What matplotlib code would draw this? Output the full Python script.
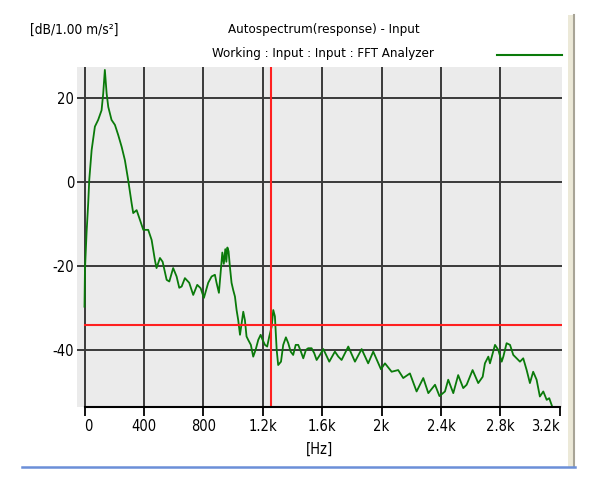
import matplotlib
matplotlib.use('Agg')
import matplotlib.pyplot as plt
from matplotlib.lines import Line2D
from matplotlib.patches import Rectangle

# autospectrum (Hz, dB)
freq_hz = [0, 3, 14, 25, 32, 48, 70, 92, 115, 126, 137, 149, 160, 182, 205, 227, 250, 272,
           294, 317, 328, 351, 373, 396, 429, 452, 474, 485, 508, 526, 553, 571, 597, 620,
           638, 654, 676, 705, 732, 759, 782, 804, 833, 856, 878, 889, 905, 918, 928, 938,
           948, 955, 962, 970, 979, 990, 1001, 1013, 1024, 1035, 1047, 1058, 1069, 1080,
           1091, 1102, 1120, 1136, 1152, 1170, 1186, 1199, 1215, 1230, 1244, 1260, 1271,
           1282, 1294, 1304, 1323, 1338, 1356, 1372, 1388, 1405, 1422, 1439, 1457, 1473,
           1491, 1506, 1529, 1547, 1563, 1585, 1608, 1648, 1686, 1709, 1731, 1776, 1821,
           1866, 1910, 1944, 1996, 2023, 2068, 2112, 2146, 2191, 2236, 2281, 2315, 2360,
           2390, 2427, 2449, 2483, 2516, 2550, 2573, 2613, 2651, 2681, 2696, 2719, 2730,
           2764, 2786, 2809, 2820, 2842, 2865, 2887, 2910, 2932, 2954, 2977, 2999, 3021,
           3044, 3066, 3089, 3112, 3129, 3150]
level_db = [-29.7, -21.0, -12.0, -5.0, 0.5, 7.6, 13.2, 14.8, 17.1, 21.1, 26.7, 21.1, 17.9,
            14.8, 13.6, 11.2, 8.4, 5.2, 0.5, -5.0, -7.4, -6.7, -9.0, -11.4, -11.4, -13.8,
            -18.6, -20.5, -18.1, -19.0, -23.3, -23.7, -20.5, -22.5, -25.2, -24.9, -22.9,
            -24.0, -26.9, -24.5, -25.3, -27.6, -24.0, -22.5, -22.1, -24.0, -26.4, -21.0,
            -16.8, -19.5, -16.0, -19.0, -15.6, -16.5, -20.2, -24.0, -25.7, -27.3, -30.5,
            -32.9, -36.4, -33.6, -30.9, -32.9, -36.8, -37.6, -38.8, -41.6, -40.0, -37.6,
            -36.4, -37.6, -38.8, -39.2, -36.8, -34.5, -30.5, -32.0, -40.0, -43.6, -42.8,
            -38.8, -37.0, -38.4, -40.4, -41.2, -38.8, -38.8, -40.4, -42.0, -40.0, -39.6,
            -39.6, -40.8, -42.4, -41.2, -39.8, -42.8, -40.4, -41.6, -42.4, -39.2, -42.8,
            -39.8, -43.2, -40.4, -44.6, -43.2, -45.2, -44.8, -46.7, -45.6, -49.9, -46.7,
            -50.3, -48.3, -51.0, -49.9, -47.1, -50.3, -46.0, -49.1, -48.3, -44.8, -47.9,
            -46.4, -43.2, -41.6, -43.2, -38.8, -40.0, -42.8, -41.6, -38.4, -38.8, -41.2,
            -42.0, -42.8, -42.0, -44.8, -47.9, -45.2, -47.1, -51.1, -49.9, -51.9, -51.5,
            -53.6]

x_ticks = [0, 400, 800, 1200, 1600, 2000, 2400, 2800, 3200]
x_labels = ['0', '400', '800', '1.2k', '1.6k', '2k', '2.4k', '2.8k', '3.2k']
y_ticks = [20, 0, -20, -40]

cursor_hz = 1258
cursor_db = -34.0

plt.rcParams['font.family'] = ['DejaVu Sans']
plt.rcParams['font.stretch'] = 'condensed'

fig = plt.figure(figsize=(5.9, 4.78), dpi=100)
ax = fig.add_axes([77 / 590, 1 - 407 / 478, 485 / 590, 340 / 478])
ax.set_facecolor('#ebebeb')

for xv in x_ticks[:-1]:
    ax.axvline(xv, color='#3a3a3a', lw=1.4, zorder=1)
for yv in y_ticks:
    ax.axhline(yv, color='#3a3a3a', lw=1.4, zorder=1)

ax.plot(freq_hz, level_db, color='#0a7a0a', lw=1.3, zorder=3)

ax.axvline(cursor_hz, color='#ff2020', lw=1.5, zorder=4)
ax.plot([0, 3300], [cursor_db, cursor_db], color='#ff2020', lw=1.5, zorder=4)

ax.set_xlim(-50.5, 3215)
ax.set_ylim(-53.6, 27.4)

for s in ['top', 'left', 'right']:
    ax.spines[s].set_visible(False)
ax.spines['bottom'].set_bounds(0, 3200)
ax.spines['bottom'].set_linewidth(1.5)
ax.spines['bottom'].set_zorder(5)

ax.set_xticks(x_ticks)
ax.set_xticklabels(x_labels)
ax.set_yticks(y_ticks)
ax.set_yticklabels([str(v) for v in y_ticks])
ax.tick_params(axis='x', direction='out', length=6.5, width=1.3, labelsize=10.5, pad=2)
ax.tick_params(axis='y', length=0, labelsize=10.5, pad=2)
ax.get_xticklabels()[0].set_ha('left')
ax.get_xticklabels()[-1].set_ha('right')
ax.set_xlabel('[Hz]', fontsize=10.5, labelpad=6)

fig.text(30 / 590, 1 - 30 / 478, '[dB/1.00 m/s\u00b2]', fontsize=9.8, va='center', ha='left')
fig.text(324 / 590, 1 - 30 / 478, 'Autospectrum(response) - Input', fontsize=9.5,
         va='center', ha='center')
fig.text(323 / 590, 1 - 53 / 478, 'Working : Input : Input : FFT Analyzer', fontsize=9.5,
         va='center', ha='center')

# legend sample line
fig.add_artist(Line2D([497 / 590, 562 / 590], [1 - 55 / 478, 1 - 55 / 478],
                      color='#0a7a0a', lw=1.5))
# window frame bits
fig.add_artist(Rectangle((568 / 590, 1 - 467 / 478), 7 / 590, 452 / 478,
                         facecolor='#ece9d8', edgecolor='none'))
fig.add_artist(Line2D([574 / 590, 574 / 590], [1 - 467 / 478, 1 - 15 / 478],
                      color='#a8a496', lw=1.5))
fig.add_artist(Line2D([22 / 590, 575 / 590], [1 - 467 / 478, 1 - 467 / 478],
                      color='#6b8fd8', lw=1.8))

fig.savefig('out.png', dpi=100, facecolor='white')
